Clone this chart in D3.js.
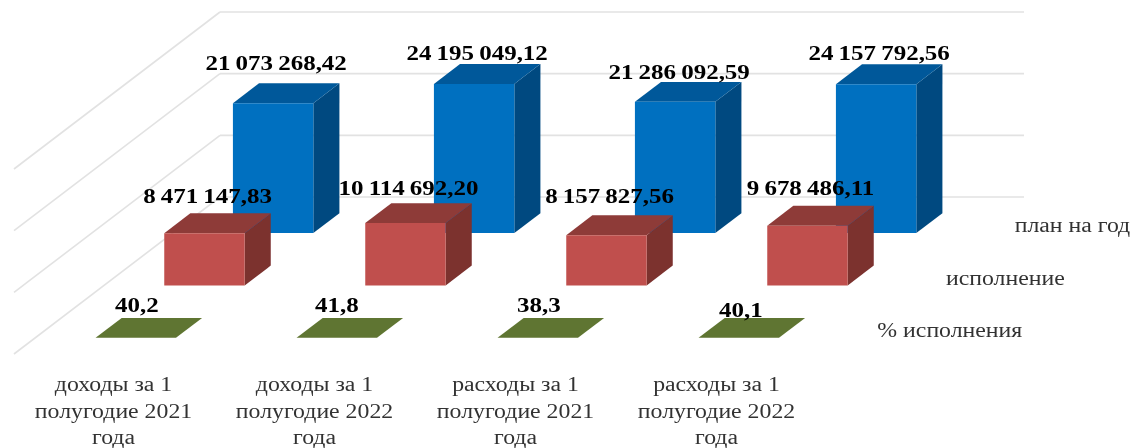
<!DOCTYPE html>
<html>
<head>
<meta charset="utf-8">
<script src="https://d3js.org/d3.v7.min.js"></script>
<style>
    html, body { margin: 0; padding: 0; background: #fff; }
    svg { display: block; }
    text { font-family: 'Liberation Serif', serif; }
</style>
</head>
<body>
<div id="chart"></div>
<script>
const categories = [
    ['доходы за 1', 'полугодие 2021', 'года'],
    ['доходы за 1', 'полугодие 2022', 'года'],
    ['расходы за 1', 'полугодие 2021', 'года'],
    ['расходы за 1', 'полугодие 2022', 'года']
]
const seriesNames = ['план на год', 'исполнение', '% исполнения']

const plan = [21073268.42, 24195049.12, 21286092.59, 24157792.56]
const done = [8471147.83, 10114692.20, 8157827.56, 9678486.11]
const percent = [40.2, 41.8, 38.3, 40.1]

const planLabels = ['21 073 268,42', '24 195 049,12', '21 286 092,59', '24 157 792,56']
const doneLabels = ['8 471 147,83', '10 114 692,20', '8 157 827,56', '9 678 486,11']
const percentLabels = ['40,2', '41,8', '38,3', '40,1']

const valueTicks = [0, 10000000, 20000000, 30000000]

const width = 1141
const height = 448
const stretch = 1.19 // the picture is a bit wider than tall

const svg = d3.select('#chart').append('svg')
    .attr('width', width)
    .attr('height', height)

svg.append('defs').append('filter')
    .attr('id', 'soft')
    .attr('x', '-2%').attr('y', '-2%')
    .attr('width', '104%').attr('height', '104%')
    .append('feGaussianBlur')
    .attr('stdDeviation', 0.6)

const g = svg.append('g').attr('filter', 'url(#soft)')

// back wall
const x = d3.scaleBand()
    .domain(d3.range(categories.length))
    .range([220, 1024])
    .paddingInner(0.6)
    .paddingOuter(0.3)

const y = d3.scaleLinear()
    .domain([0, 30000000])
    .range([197, 12])

// depth, 0 is the back wall and 1 the front edge of the floor
const depth = d3.scaleBand()
    .domain(seriesNames)
    .range([0, 1])
    .paddingInner(0.62)
    .paddingOuter(0.31)

const depthX = d3.scaleLinear().domain([0, 1]).range([0, -206])
const depthY = d3.scaleLinear().domain([0, 1]).range([0, 157])

// value v at category i and depth d
function project(i, offset, v, d) {
    return [x(i) + offset + depthX(d), y(v) + depthY(d)]
}

g.selectAll('.wall')
    .data(valueTicks)
    .enter()
    .append('line')
    .attr('class', 'wall')
    .attr('x1', x.range()[0])
    .attr('x2', x.range()[1])
    .attr('y1', d => y(d))
    .attr('y2', d => y(d))
    .attr('stroke', '#e2e2e2')
    .attr('stroke-width', 1.6)

g.selectAll('.floor')
    .data(valueTicks)
    .enter()
    .append('line')
    .attr('class', 'floor')
    .attr('x1', x.range()[0])
    .attr('x2', x.range()[0] + depthX(1))
    .attr('y1', d => y(d))
    .attr('y2', d => y(d) + depthY(1))
    .attr('stroke', '#e2e2e2')
    .attr('stroke-width', 1.6)

const seriesValues = [plan, done, percent]
const seriesColors = [
    { front: '#0070c0', top: '#00599a', side: '#004a80' },
    { front: '#c0504d', top: '#8e3a38', side: '#7b302e' },
    { front: '#5f7530', top: '#5f7530', side: '#5f7530' }
]

function pathOf(points) {
    return d3.line()(points) + 'Z'
}

seriesNames.forEach(function (name, s) {
    const d0 = depth(name)
    const d1 = d0 + depth.bandwidth()
    const w = x.bandwidth()
    const colors = seriesColors[s]

    const bars = g.selectAll('.bar' + s)
        .data(seriesValues[s])
        .enter()
        .append('g')
        .attr('class', 'bar' + s)

    bars.append('path')
        .attr('fill', colors.side)
        .attr('d', (v, i) => pathOf([
            project(i, w, 0, d1), project(i, w, v, d1),
            project(i, w, v, d0), project(i, w, 0, d0)
        ]))
    bars.append('path')
        .attr('fill', colors.top)
        .attr('d', (v, i) => pathOf([
            project(i, 0, v, d1), project(i, w, v, d1),
            project(i, w, v, d0), project(i, 0, v, d0)
        ]))
    bars.append('path')
        .attr('fill', colors.front)
        .attr('d', (v, i) => pathOf([
            project(i, 0, 0, d1), project(i, w, 0, d1),
            project(i, w, v, d1), project(i, 0, v, d1)
        ]))
})

function stretchedText(sel, px, py) {
    return sel.attr('text-anchor', 'middle')
        .attr('transform', (d, i) => `translate(${px(d, i)},${py(d, i)}) scale(${stretch},1)`)
}

// data labels were moved by hand in the original, so they sit at uneven distances
const labelSets = [
    { labels: planLabels, values: plan, dx: [-23, -23, -22, -23], dy: [-13, -4, -3, -4] },
    { labels: doneLabels, values: done, dx: [-23, -23, -23, -23], dy: [-10, -8, -12, -11] },
    { labels: percentLabels, values: percent, dx: [-25, -26, -25, -24], dy: [-6, -6, -6, -1] }
]

labelSets.forEach(function (set, s) {
    const dMid = depth(seriesNames[s])
    stretchedText(g.selectAll('.label' + s)
        .data(set.labels)
        .enter()
        .append('text')
        .attr('class', 'label' + s)
        .text(d => d)
        .attr('font-size', 21)
        .attr('font-weight', 'bold')
        .attr('word-spacing', -1)
        .attr('fill', '#000'),
        (d, i) => project(i, x.bandwidth() / 2, set.values[i], dMid)[0] + set.dx[i],
        (d, i) => project(i, 0, set.values[i], dMid)[1] + set.dy[i])
})

// category axis along the front edge of the floor
const catLabels = g.selectAll('.cat')
    .data(categories)
    .enter()
    .append('g')
    .attr('class', 'cat')
    .attr('transform', (d, i) => `translate(${x(i) + x.bandwidth() / 2 + depthX(1) - 1},391)`)

catLabels.selectAll('text')
    .data(d => d)
    .enter()
    .append('text')
    .text(d => d)
    .attr('text-anchor', 'middle')
    .attr('font-size', 20)
    .attr('fill', '#333')
    .attr('transform', (d, i) => `translate(0,${i * 26.5}) scale(${stretch},1)`)

// series axis along the right edge of the floor
g.selectAll('.series')
    .data(seriesNames)
    .enter()
    .append('text')
    .attr('class', 'series')
    .text(d => d)
    .attr('font-size', 20)
    .attr('fill', '#333')
    .attr('transform', d => {
        const mid = depth(d) + depth.bandwidth() / 2
        return `translate(${x.range()[1] + depthX(mid) + 25},${y(0) + depthY(mid) + 9}) scale(${stretch},1)`
    })
</script>
</body>
</html>
